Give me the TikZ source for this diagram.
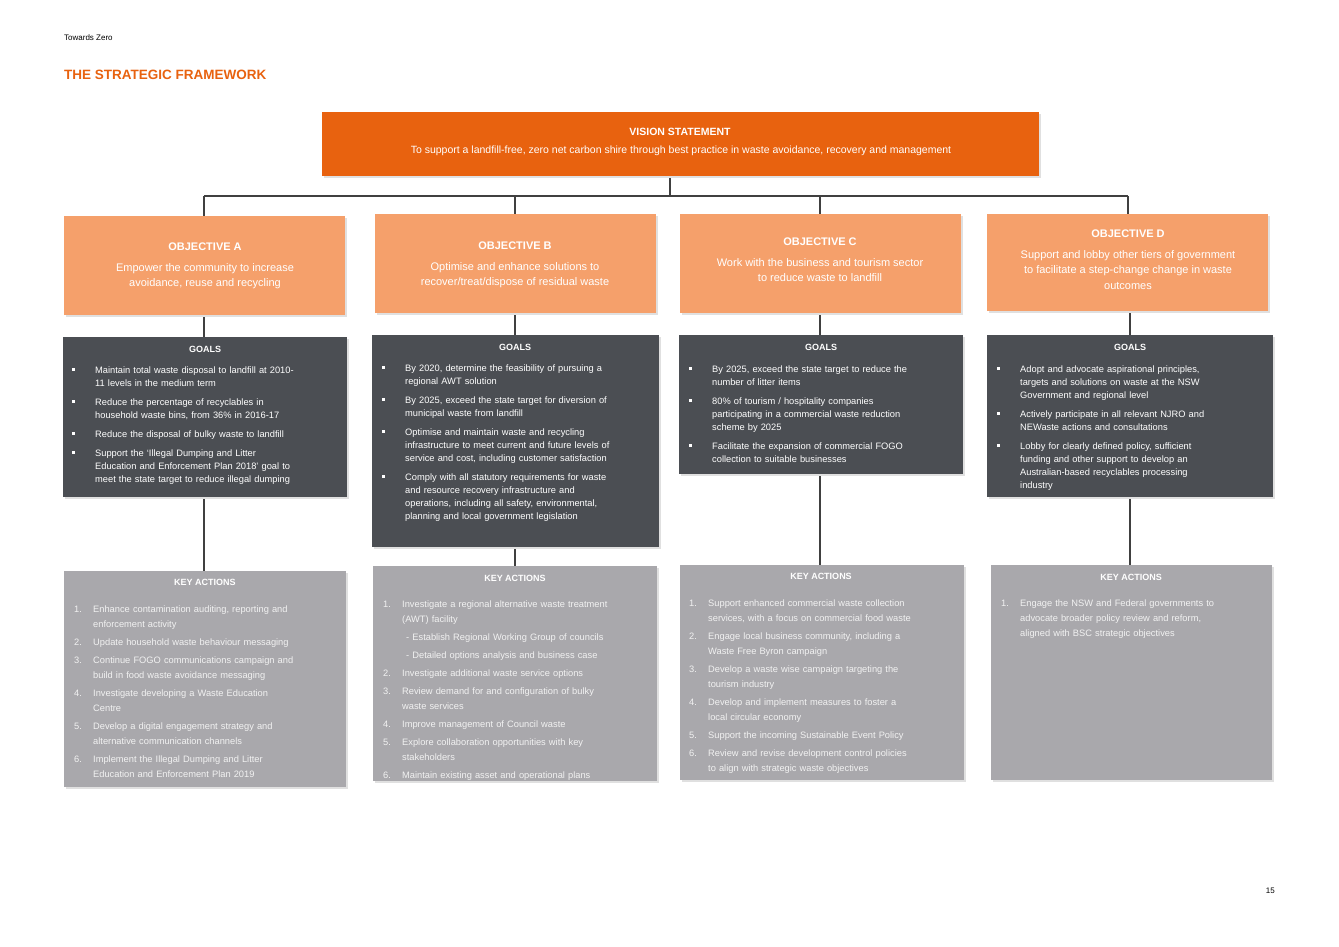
\documentclass[tikz,border=0pt]{standalone}
\usepackage{fontspec}
\setmainfont{Liberation Sans}
\definecolor{vis}{HTML}{E8620F}
\definecolor{obj}{HTML}{F5A06B}
\definecolor{goal}{HTML}{4B4E53}
\definecolor{act}{HTML}{A9A8AC}
\definecolor{acttext}{HTML}{F2F2F2}
\definecolor{lnk}{HTML}{404040}
\newcommand\gi[1]{\par\hangindent=23pt\hangafter=1\noindent\hbox to 23pt{\rule[2.5pt]{2.5pt}{2.5pt}\hfil}#1\par\vspace{6pt}}
\newcommand\ki[2]{\par\hangindent=19pt\hangafter=1\noindent\hbox to 19pt{#1.\hfil}#2\par\vspace{3pt}}
\newcommand\ks[1]{\par\noindent\hspace*{23pt}- #1\par\vspace{3pt}}
\tikzset{
 panel/.style={anchor=north west,inner sep=0pt,outer sep=0pt,draw=none},
 shadowed/.style={},
 gtext/.style={anchor=north west,inner sep=0pt,text=white,font=\fontsize{9.3}{13}\selectfont,text width=#1,execute at begin node=\raggedright},
 ktext/.style={anchor=north west,inner sep=0pt,text=acttext,font=\fontsize{9.3}{15}\selectfont,text width=#1,execute at begin node=\raggedright},
 head/.style={inner sep=0pt,font=\fontsize{9}{11}\selectfont\bfseries},
 otext/.style={inner sep=0pt,text=white,align=center,font=\fontsize{11}{15.5}\selectfont},
 link/.style={draw=lnk,line width=1.6pt},
}
\newcommand\pbox[6]{% name, x1,y1,x2,y2,color
 \fill[black!12] (#2+2,#3+2) rectangle (#4+2,#5+2);
 \node[panel,fill=#6,minimum width=#4-#2,minimum height=#5-#3] (#1) at (#2,#3) {};}
\begin{document}
\begin{tikzpicture}[x=1pt,y=-1pt]
\useasboundingbox[fill=white] (0,0) rectangle (1339,947);
\node[anchor=west,inner sep=0pt,font=\fontsize{8}{10}\selectfont] (tz) at (64,38) {Towards Zero};
\node[anchor=west,inner sep=0pt,text=vis,font=\fontsize{13.5}{16}\selectfont\bfseries] (title) at (64,75) {THE STRATEGIC FRAMEWORK};
\node[anchor=east,inner sep=0pt,font=\fontsize{8}{10}\selectfont] (pg) at (1275,891) {15};

% connectors
\coordinate (hub) at (670,196);
\coordinate (hl) at (204,196);
\coordinate (hb) at (515,196);
\coordinate (hc) at (820,196);
\coordinate (hr) at (1128,196);
\draw[link] (670,176) -- (hub);
\draw[link] (hl) -- (hr);
\foreach \x in {204,515,820,1128}{\draw[link] (\x,196) -- (\x,216);}
\draw[link] (204,315) -- (204,571);
\draw[link] (515,313) -- (515,566);
\draw[link] (820,313) -- (820,565);
\draw[link] (1130,311) -- (1130,565);

% vision
\pbox{vis}{322}{112}{1039}{176}{vis}
\node[otext,font=\fontsize{10.5}{14}\selectfont\bfseries] (vh) at (680,132) {VISION STATEMENT};
\node[otext,font=\fontsize{10.5}{14}\selectfont] (vt) at (681,151) {To support a landfill-free, zero net carbon shire through best practice in waste avoidance, recovery and management};

% objectives
\pbox{oa}{64}{216}{345}{315}{obj}
\pbox{ob}{375}{214}{656}{313}{obj}
\pbox{oc}{680}{214}{961}{313}{obj}
\pbox{od}{987}{214}{1268}{311}{obj}
\node[otext,font=\fontsize{11}{14}\selectfont\bfseries] (oah) at (205,247) {OBJECTIVE A};
\node[otext] (oat) at (205,276) {Empower the community to increase\\avoidance, reuse and recycling};
\node[otext,font=\fontsize{11}{14}\selectfont\bfseries] (obh) at (515,246) {OBJECTIVE B};
\node[otext] (obt) at (515,275) {Optimise and enhance solutions to\\recover/treat/dispose of residual waste};
\node[otext,font=\fontsize{11}{14}\selectfont\bfseries] (och) at (820,242) {OBJECTIVE C};
\node[otext] (oct) at (820,270) {Work with the business and tourism sector\\to reduce waste to landfill};
\node[otext,font=\fontsize{11}{14}\selectfont\bfseries] (odh) at (1128,234) {OBJECTIVE D};
\node[otext] (odt) at (1128,270) {Support and lobby other tiers of government\\to facilitate a step-change change in waste\\outcomes};

% goals
\pbox{ga}{63}{337}{347}{497}{goal}
\pbox{gb}{372}{335}{659}{547}{goal}
\pbox{gc}{679}{335}{963}{474}{goal}
\pbox{gd}{987}{335}{1273}{497}{goal}
\node[head,text=white] (gah) at (205,349) {GOALS};
\node[head,text=white] (gbh) at (515,347) {GOALS};
\node[head,text=white] (gch) at (821,347) {GOALS};
\node[head,text=white] (gdh) at (1130,347) {GOALS};
\node[gtext=270pt] (gat) at (72,360) {%
\gi{Maintain total waste disposal to landfill at 2010-\newline 11 levels in the medium term}
\gi{Reduce the percentage of recyclables in\newline household waste bins, from 36\% in 2016-17}
\gi{Reduce the disposal of bulky waste to landfill}
\gi{Support the ‘Illegal Dumping and Litter\newline Education and Enforcement Plan 2018’ goal to\newline meet the state target to reduce illegal dumping}};
\node[gtext=275pt] (gbt) at (382,358) {%
\gi{By 2020, determine the feasibility of pursuing a\newline regional AWT solution}
\gi{By 2025, exceed the state target for diversion of\newline municipal waste from landfill}
\gi{Optimise and maintain waste and recycling\newline infrastructure to meet current and future levels of\newline service and cost, including customer satisfaction}
\gi{Comply with all statutory requirements for waste\newline and resource recovery infrastructure and\newline operations, including all safety, environmental,\newline planning and local government legislation}};
\node[gtext=275pt] (gct) at (689,359) {%
\gi{By 2025, exceed the state target to reduce the\newline number of litter items}
\gi{80\% of tourism / hospitality companies\newline participating in a commercial waste reduction\newline scheme by 2025}
\gi{Facilitate the expansion of commercial FOGO\newline collection to suitable businesses}};
\node[gtext=275pt] (gdt) at (997,359) {%
\gi{Adopt and advocate aspirational principles,\newline targets and solutions on waste at the NSW\newline Government and regional level}
\gi{Actively participate in all relevant NJRO and\newline NEWaste actions and consultations}
\gi{Lobby for clearly defined policy, sufficient\newline funding and other support to develop an\newline Australian-based recyclables processing\newline industry}};

% key actions
\pbox{ka}{64}{571}{346}{787}{act}
\pbox{kb}{373}{566}{657}{781}{act}
\pbox{kc}{680}{565}{964}{780}{act}
\pbox{kd}{991}{565}{1272}{780}{act}
\node[head,text=white] (kah) at (205,582) {KEY ACTIONS};
\node[head,text=white] (kbh) at (515,578) {KEY ACTIONS};
\node[head,text=white] (kch) at (821,576) {KEY ACTIONS};
\node[head,text=white] (kdh) at (1131,577) {KEY ACTIONS};
\node[ktext=270pt] (kat) at (74,597) {%
\ki{1}{Enhance contamination auditing, reporting and\newline enforcement activity}
\ki{2}{Update household waste behaviour messaging}
\ki{3}{Continue FOGO communications campaign and\newline build in food waste avoidance messaging}
\ki{4}{Investigate developing a Waste Education\newline Centre}
\ki{5}{Develop a digital engagement strategy and\newline alternative communication channels}
\ki{6}{Implement the Illegal Dumping and Litter\newline Education and Enforcement Plan 2019}};
\node[ktext=280pt] (kbt) at (383,592) {%
\ki{1}{Investigate a regional alternative waste treatment\newline (AWT) facility}
\ks{Establish Regional Working Group of councils}
\ks{Detailed options analysis and business case}
\ki{2}{Investigate additional waste service options}
\ki{3}{Review demand for and configuration of bulky\newline waste services}
\ki{4}{Improve management of Council waste}
\ki{5}{Explore collaboration opportunities with key\newline stakeholders}
\ki{6}{Maintain existing asset and operational plans}};
\node[ktext=280pt] (kct) at (689,591) {%
\ki{1}{Support enhanced commercial waste collection\newline services, with a focus on commercial food waste}
\ki{2}{Engage local business community, including a\newline Waste Free Byron campaign}
\ki{3}{Develop a waste wise campaign targeting the\newline tourism industry}
\ki{4}{Develop and implement measures to foster a\newline local circular economy}
\ki{5}{Support the incoming Sustainable Event Policy}
\ki{6}{Review and revise development control policies\newline to align with strategic waste objectives}};
\node[ktext=270pt] (kdt) at (1001,591) {%
\ki{1}{Engage the NSW and Federal governments to\newline advocate broader policy review and reform,\newline aligned with BSC strategic objectives}};
\end{tikzpicture}
\end{document}
